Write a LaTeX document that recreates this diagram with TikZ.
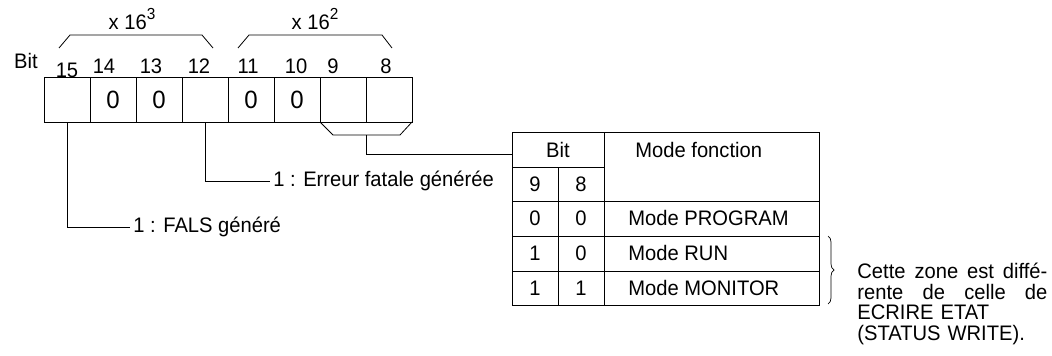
\documentclass[tikz,border=0pt]{standalone}
\usepackage{fontspec}
\setmainfont{Liberation Sans}[FakeStretch=0.96]
\usetikzlibrary{positioning,decorations.pathreplacing}

\begin{document}
\begin{tikzpicture}[x=1pt, y=-1pt, line width=0.8pt,
  every node/.style={font=\fontsize{21}{22}\selectfont, inner sep=3pt},
  bitcell/.style={draw, minimum width=46pt, minimum height=45pt, inner sep=0pt, outer sep=0pt, font=\fontsize{25}{25}\selectfont}]
\useasboundingbox (0,0) rectangle (1052,356);

% register cells, bit 15 to bit 8
\node (b15) [bitcell] at (67,99.5) {};
\node (b14) [bitcell, right=0pt of b15] {0};
\node (b13) [bitcell, right=0pt of b14] {0};
\node (b12) [bitcell, right=0pt of b13] {};
\node (b11) [bitcell, right=0pt of b12] {0};
\node (b10) [bitcell, right=0pt of b11] {0};
\node (b9) [bitcell, right=0pt of b10] {};
\node (b8) [bitcell, right=0pt of b9] {};

% bit numbers
\node (bit) at (26,61) {Bit};
\foreach \b/\x/\y in {15/67/70, 14/104/66, 13/151/66, 12/199/66, 11/248/66, 10/296/66, 9/333/66, 8/386/66}
  \node (n\b) at (\x,\y) {\b};

% digit weights
\node (m163) at (132,19) {x 16\raisebox{0.45em}{\fontsize{16}{16}\selectfont 3}};
\node (m162) at (315,19) {x 16\raisebox{0.45em}{\fontsize{16}{16}\selectfont 2}};
\draw (59,48) -- (70,35) -- (202,35) -- (213,48);
\draw (238,48) -- (249,35) -- (382,35) -- (392,48);

% flags
\node (fals) [anchor=west] at (130,227) {1 : FALS généré};
\node (err) [anchor=west] at (270,181) {1 : Erreur fatale générée};
\draw (b15.south) |- (fals);
\draw (b12.south) |- (err);

% bits 9 and 8 to mode table
\draw (b9.south west) -- ++(13,13) -- ([shift={(-12,13)}]b8.south east) -- (b8.south east);
\coordinate (grp) at ([shift={(0,13)}]b9.south east);
\coordinate (tblin) at (512,154);
\draw (grp) |- (tblin);

% mode table
\node (tbl) [draw, anchor=north west, minimum width=307pt, minimum height=173pt, inner sep=0pt] at (512,132) {};
\draw (512,167) -- (604,167);
\draw (558,167) -- (558,305);
\draw (604,132) -- (604,305);
\foreach \y in {201,236,271}
  \draw (512,\y) -- (819,\y);
\node (hbit) at (558,150) {Bit};
\node (hmode) [anchor=west] at (632,150) {Mode fonction};
\node (h9) at (535,184) {9};
\node (h8) at (581,184) {8};
\foreach \r/\y/\a/\c/\m in {p/218/0/0/PROGRAM, r/253/1/0/RUN, m/288/1/1/MONITOR} {
  \node (a\r) at (535,\y) {\a};
  \node (c\r) at (581,\y) {\c};
  \node (m\r) [anchor=west] at (625,\y) {Mode \m};
}

% remark
\coordinate (brtop) at (828,236);
\coordinate (brbot) at (828,304);
\draw[line width=0.7pt, decorate, decoration={brace, amplitude=6pt}] (brtop) -- (brbot);
\node (note) [anchor=north west, text width=190pt, inner sep=0pt, align=left, font=\fontsize{21}{20.5}\selectfont] at (857,263)
  {\makebox[190pt][l]{Cette\hfill zone\hfill est\hfill diffé-}\\ \makebox[190pt][l]{rente\hfill de\hfill celle\hfill de}\\ ECRIRE ETAT\\ (STATUS WRITE).};
\end{tikzpicture}
\end{document}
